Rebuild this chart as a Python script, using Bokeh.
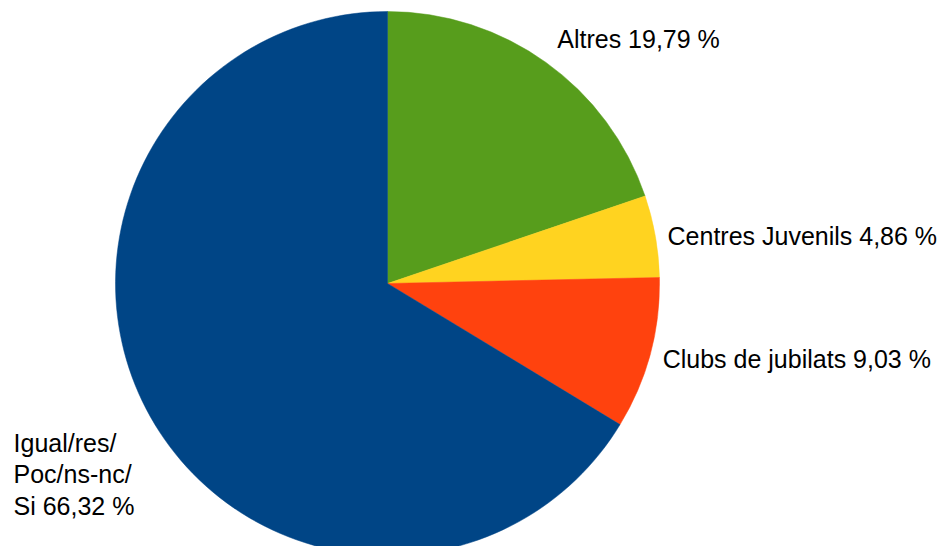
import math
from bokeh.plotting import figure
from bokeh.models import Range1d, ColumnDataSource
from bokeh.embed import file_html
from bokeh.resources import INLINE
from bokeh.core.properties import value

# ---- data ----
categories = ["Altres", "Centres Juvenils", "Clubs de jubilats", "Igual/res/\nPoc/ns-nc/\nSi"]
percentages = [19.79, 4.86, 9.03, 66.32]
colors = ["#579d1c", "#ffd320", "#ff420e", "#004586"]

# ---- layout ----
W, H = 940, 546
cx, cy, r = 387, H - 283, 272
label_r = 288
# per-label offsets (px) and alignment
label_dx = [2, -3.6, -3, -123]
label_dy = [10, -3, -0.5, -49.6]
label_align = ["left", "left", "left", "left"]

total = sum(percentages)
starts, ends, mids = [], [], []
acc = 0.0
for pct in percentages:
    a0 = acc / total
    acc += pct
    a1 = acc / total
    starts.append(math.pi / 2 - 2 * math.pi * a0)
    ends.append(math.pi / 2 - 2 * math.pi * a1)
    mids.append(2 * math.pi * (a0 + a1) / 2)

def fmt(p):
    return ("%.2f" % p).replace(".", ",") + " %"

labels = [c + " " + fmt(p) for c, p in zip(categories, percentages)]

src = ColumnDataSource(dict(
    x=[cx] * len(percentages), y=[cy] * len(percentages),
    start=starts, end=ends, color=colors,
))

p = figure(width=W, height=H, output_backend="svg", toolbar_location=None,
           x_range=Range1d(0, W), y_range=Range1d(0, H), min_border=0)
p.axis.visible = False
p.grid.visible = False
p.outline_line_color = None
p.background_fill_color = "white"
p.border_fill_color = "white"

p.wedge(x="x", y="y", radius=r, start_angle="start", end_angle="end", direction="clock",
        fill_color="color", line_color="color", line_width=0.5, source=src)

lx = [cx + label_r * math.sin(m) + dx for m, dx in zip(mids, label_dx)]
ly = [cy + label_r * math.cos(m) + dy for m, dy in zip(mids, label_dy)]
lsrc = ColumnDataSource(dict(x=lx, y=ly, text=labels, align=label_align))
p.text(x="x", y="y", text="text", source=lsrc, text_align="align", text_baseline="alphabetic",
       text_font=value("Liberation Sans"), text_font_size="25px", text_color="#000000",
       text_line_height=1.13)

open("out.html", "w").write(file_html(p, INLINE))
